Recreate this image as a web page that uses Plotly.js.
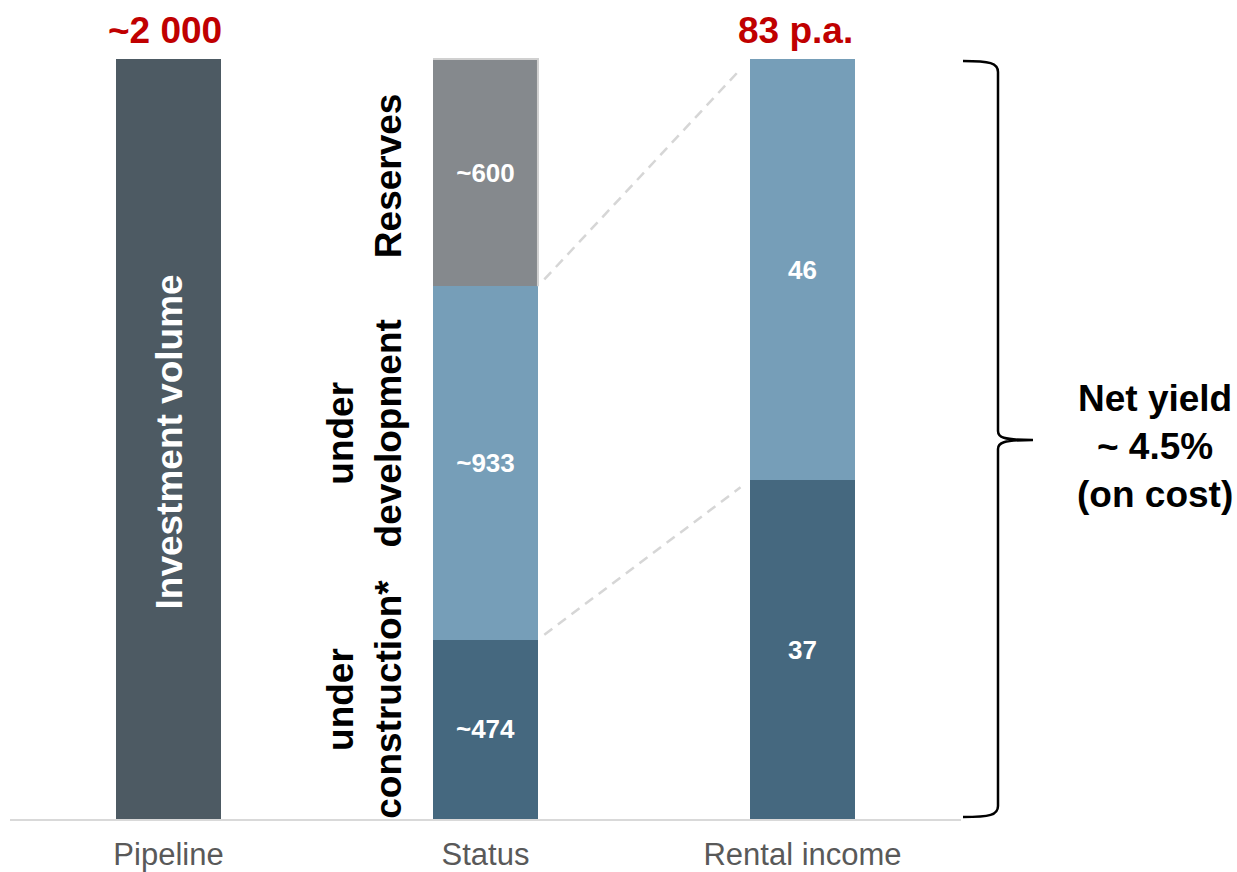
<!DOCTYPE html>
<html><head><meta charset="utf-8">
<script src="https://cdn.plot.ly/plotly-3.0.1.min.js"></script>
<style>html,body{margin:0;padding:0;background:#fff}</style>
</head><body><div id="chart" style="width:1237px;height:872px"></div>
<script>
// ---- data ----
const categories = ['Pipeline', 'Status', 'Rental income'];
const pipelineValue = [2007];
const statusNames = ['under<br>construction*', 'under<br>development', 'Reserves'];
const statusValues = [474, 933, 600];
const rentalValues = [37, 46];
const topLabels = ['~2 000', '83 p.a.'];
const pipelineLabel = 'Investment volume';
const yieldLabel = 'Net yield<br>~ 4.5%<br>(on cost)';

// ---- styles ----
const FONT = 'Liberation Sans, Arial, sans-serif';
const cPipe = '#4d5a63';
const statusColors = ['#45687f', '#769eb8', '#85898d'];
const rentalColors = ['#45687f', '#769eb8'];
const BW = 0.331;
const BIG = 37;
const statusLabelShift = [30, 29, -3];
const topLabelShift = [-4, -7];

// plot area geometry (pixels)
const L = 10, R = 276, T = 59, B = 53, W = 1237, H = 872;
const pw = W - L - R, ph = H - T - B;
const px = p => (p - L) / pw;
const py = p => (H - B - p) / ph;

const statusTotal = statusValues.reduce((a, b) => a + b, 0);
const rentalTotal = rentalValues.reduce((a, b) => a + b, 0);
const yMax = Math.max(statusTotal, pipelineValue[0]);

const traces = [];
traces.push({
  type: 'bar', x: [categories[0]], y: pipelineValue, width: BW,
  marker: {color: cPipe}, hoverinfo: 'none', showlegend: false
});
statusValues.forEach((v, i) => {
  traces.push({
    type: 'bar', x: [categories[1]], y: [v], width: BW,
    marker: {color: statusColors[i]},
    text: ['~' + v], textposition: 'inside', insidetextanchor: 'middle',
    textfont: {family: FONT, size: 26, color: '#ffffff', weight: 'bold'},
    hoverinfo: 'none', showlegend: false
  });
});
rentalValues.forEach((v, i) => {
  traces.push({
    type: 'bar', x: [categories[2]], y: [v], width: BW, yaxis: 'y2',
    marker: {color: rentalColors[i]},
    text: [String(v)], textposition: 'inside', insidetextanchor: 'middle',
    textfont: {family: FONT, size: 26, color: '#ffffff', weight: 'bold'},
    hoverinfo: 'none', showlegend: false
  });
});

const annotations = [];
// top labels
[[0, topLabels[0]], [2, topLabels[1]]].forEach(([xi, t], k) => {
  annotations.push({
    x: xi, xref: 'x', y: 1, yref: 'paper', yanchor: 'bottom', yshift: 6, xshift: topLabelShift[k],
    text: t, showarrow: false,
    font: {family: FONT, size: BIG, color: '#c00000', weight: 'bold'}
  });
});
// investment volume
annotations.push({
  x: 0, xref: 'x', y: pipelineValue[0] / 2, yref: 'y', textangle: -90, yshift: -3,
  text: pipelineLabel, showarrow: false,
  font: {family: FONT, size: BIG, color: '#ffffff', weight: 'bold'}
});
// status labels
let cum = 0;
statusValues.forEach((v, i) => {
  const mid = cum + v / 2; cum += v;
  annotations.push({
    x: 1 - BW / 2, xref: 'x', xanchor: 'right', xshift: -22,
    y: mid, yref: 'y', yshift: statusLabelShift[i], textangle: -90,
    text: statusNames[i], showarrow: false, align: 'center',
    font: {family: FONT, size: BIG, color: '#000000', weight: 'bold'}
  });
});
// net yield
annotations.push({
  x: px(1155), xref: 'paper', xanchor: 'center', y: py(446), yref: 'paper', yanchor: 'middle',
  text: yieldLabel, showarrow: false, align: 'center',
  font: {family: FONT, size: BIG, color: '#000000', weight: 'bold'}
});

const shapes = [];
// dashed connectors
const gx = 0.02;
const connY = [
  [(statusValues[0]) / yMax, rentalValues[0] / rentalTotal],
  [(statusValues[0] + statusValues[1]) / yMax, 1]
];
connY.forEach(([y0, y1]) => {
  const x0 = 1 + BW / 2, x1 = 2 - BW / 2;
  const xa = x0 + gx, xb = x1 - gx * 1.5;
  const ya = y0 + (y1 - y0) * (xa - x0) / (x1 - x0);
  const yb = y0 + (y1 - y0) * (xb - x0) / (x1 - x0);
  shapes.push({
    type: 'line', xref: 'x', yref: 'paper', x0: xa, x1: xb, y0: ya, y1: yb,
    line: {color: '#d6d6d6', width: 2.5, dash: '10px,7px'}
  });
});
// reserves outline (top and right edge)
const rTop = 1, rBot = (statusValues[0] + statusValues[1]) / yMax;
shapes.push({
  type: 'path', xref: 'x', yref: 'paper',
  path: 'M' + (1 - BW / 2) + ',' + rTop + ' L' + (1 + BW / 2) + ',' + rTop + ' L' + (1 + BW / 2) + ',' + rBot,
  line: {color: '#d0d0d0', width: 2}
});
// brace
const P = (x, y) => px(x).toFixed(5) + ',' + py(y).toFixed(5);
const bracePath =
  'M' + P(963, 61) + ' C' + P(990, 61) + ' ' + P(998, 63) + ' ' + P(998, 72) +
  ' L' + P(998, 431) + ' C' + P(998, 437) + ' ' + P(1002, 440) + ' ' + P(1033, 440) +
  ' M' + P(1033, 440) + ' C' + P(1002, 440) + ' ' + P(998, 443) + ' ' + P(998, 449) +
  ' L' + P(998, 806) + ' C' + P(998, 815) + ' ' + P(990, 817) + ' ' + P(963, 817);
shapes.push({
  type: 'path', xref: 'paper', yref: 'paper', path: bracePath,
  line: {color: '#000000', width: 2.5}
});

const layout = {
  width: W, height: H,
  margin: {l: L, r: R, t: T, b: B, pad: 0},
  paper_bgcolor: '#ffffff', plot_bgcolor: '#ffffff',
  barmode: 'stack', showlegend: false,
  font: {family: FONT},
  xaxis: {
    type: 'category', categoryorder: 'array', categoryarray: categories,
    range: [-0.5, 2.5], showline: true, linecolor: '#d9d9d9', linewidth: 2,
    showgrid: false, zeroline: false, ticks: '', ticklabelstandoff: 7,
    tickfont: {family: FONT, size: 31, color: '#595959'}, fixedrange: true
  },
  yaxis: {range: [0, yMax], visible: false, showgrid: false, zeroline: false, fixedrange: true},
  yaxis2: {range: [0, rentalTotal], overlaying: 'y', visible: false, showgrid: false, zeroline: false, fixedrange: true},
  annotations: annotations,
  shapes: shapes
};

Plotly.newPlot('chart', traces, layout, {displayModeBar: false, staticPlot: true});
</script>
</body></html>
